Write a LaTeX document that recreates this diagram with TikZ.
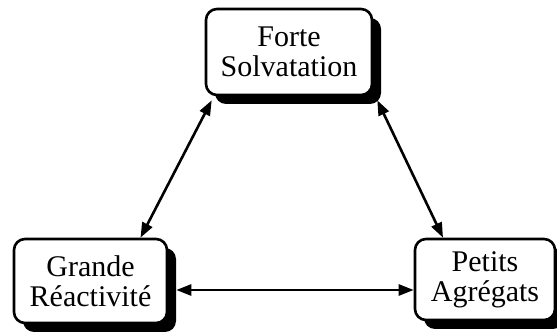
\documentclass[tikz,border=0pt]{standalone}
\usepackage{fontspec}
\setmainfont{Liberation Serif}
\usetikzlibrary{arrows.meta,shadows,positioning}

\begin{document}
\begin{tikzpicture} [x=1pt,y=1pt,line width=2.6pt,
    arr/.style={{Triangle[length=15pt,width=11pt]}-{Triangle[length=15pt,width=11pt]}},
    etat/.style={draw,fill=white,rounded corners=11pt,align=center,
      font=\fontsize{30}{30}\selectfont,inner sep=0pt,
      drop shadow={shadow xshift=9pt,shadow yshift=-9pt,fill=black,opacity=1}}]
  \useasboundingbox (0,0) rectangle (557,332);
  \node[etat,minimum width=166pt,minimum height=86pt] (forte) at (289,280) {Forte\\Solvatation};
  \node[etat,minimum width=153pt,minimum height=84pt] (grande) at (90.5,51) {Grande\\R\'eactivit\'e};
  \node[etat,minimum width=140pt,minimum height=81pt] (petits) at (485,52.5) {Petits\\Agr\'egats};

  \draw[arr] ([xshift=7pt,yshift=-4pt]forte.south west) -- ([xshift=50pt]grande.north);
  \draw[arr] ([xshift=4pt,yshift=-4pt]forte.south east) -- ([xshift=-42pt]petits.north);
  \draw[arr] ([xshift=8pt,yshift=-9pt]grande.east) -- ([yshift=-9pt]grande.east -| petits.west);
\end{tikzpicture}
\end{document}
